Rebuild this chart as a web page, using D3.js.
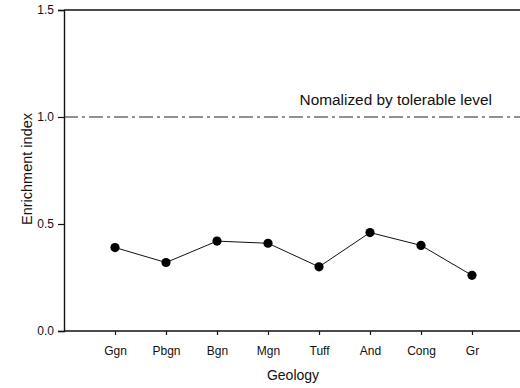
<!DOCTYPE html>
<html>
<head>
<meta charset="utf-8">
<script src="https://cdn.jsdelivr.net/npm/d3@7"></script>
<style>
  body { margin: 0; background: #fff; }
  svg { display: block; font-family: "Liberation Sans", Arial, sans-serif; }
</style>
</head>
<body>
<div id="chart"></div>
<script>
const geology = ['Ggn', 'Pbgn', 'Bgn', 'Mgn', 'Tuff', 'And', 'Cong', 'Gr'];
const enrichment = [0.39, 0.32, 0.42, 0.41, 0.30, 0.46, 0.40, 0.26];
const yTicks = [0.0, 0.5, 1.0, 1.5];
const tolerableLevel = 1.0;

const width = 520, height = 388;
const margin = {top: 10, right: 0, bottom: 57, left: 64};

const svg = d3.select('#chart').append('svg')
  .attr('width', width)
  .attr('height', height);

const x = d3.scalePoint()
  .domain(geology)
  .range([margin.left, width + 3])
  .padding(1);

const y = d3.scaleLinear()
  .domain([0, 1.5])
  .range([height - margin.bottom, margin.top]);

// axes
const yAxis = svg.append('g')
  .attr('transform', `translate(${margin.left},0)`)
  .call(d3.axisLeft(y).tickValues(yTicks).tickFormat(d3.format('.1f')).tickSize(6).tickPadding(4));

const xAxis = svg.append('g')
  .attr('transform', `translate(0,${height - margin.bottom})`)
  .call(d3.axisBottom(x).tickSize(4).tickPadding(11));

xAxis.select('.domain').attr('d', `M${margin.left},0H${width}`);

[xAxis, yAxis].forEach(g => {
  g.select('.domain').attr('stroke', '#111').attr('stroke-width', 1.4);
  g.selectAll('.tick line').attr('stroke', '#111').attr('stroke-width', 1.2);
  g.selectAll('.tick text').attr('font-size', 12).attr('fill', '#111')
    .attr('font-family', '"Liberation Sans", Arial, sans-serif');
});

// top frame line
svg.append('line')
  .attr('x1', margin.left).attr('x2', width)
  .attr('y1', y(1.5)).attr('y2', y(1.5))
  .attr('stroke', '#111').attr('stroke-width', 1.4);

// reference line
svg.append('line')
  .attr('x1', margin.left).attr('x2', width)
  .attr('y1', y(tolerableLevel)).attr('y2', y(tolerableLevel))
  .attr('stroke', '#222').attr('stroke-width', 1)
  .attr('stroke-dasharray', '14,4,3,4');

svg.append('text')
  .attr('x', 492).attr('y', y(tolerableLevel) - 12)
  .attr('text-anchor', 'end')
  .attr('font-size', 15.4).attr('fill', '#111')
  .text('Nomalized by tolerable level');

// series
const line = d3.line()
  .x((d, i) => x(geology[i]))
  .y(d => y(d));

svg.append('path')
  .datum(enrichment)
  .attr('fill', 'none')
  .attr('stroke', '#111')
  .attr('stroke-width', 1)
  .attr('d', line);

svg.selectAll('circle')
  .data(enrichment)
  .enter().append('circle')
  .attr('cx', (d, i) => x(geology[i]))
  .attr('cy', d => y(d))
  .attr('r', 4.6)
  .attr('fill', '#000');

// axis titles
svg.append('text')
  .attr('x', (margin.left + width) / 2 + 1).attr('y', 380)
  .attr('text-anchor', 'middle')
  .attr('font-size', 14).attr('fill', '#111')
  .text('Geology');

svg.append('text')
  .attr('transform', `translate(32,${169}) rotate(-90)`)
  .attr('text-anchor', 'middle')
  .attr('font-size', 14.5).attr('fill', '#111')
  .text('Enrichment index');
</script>
</body>
</html>
